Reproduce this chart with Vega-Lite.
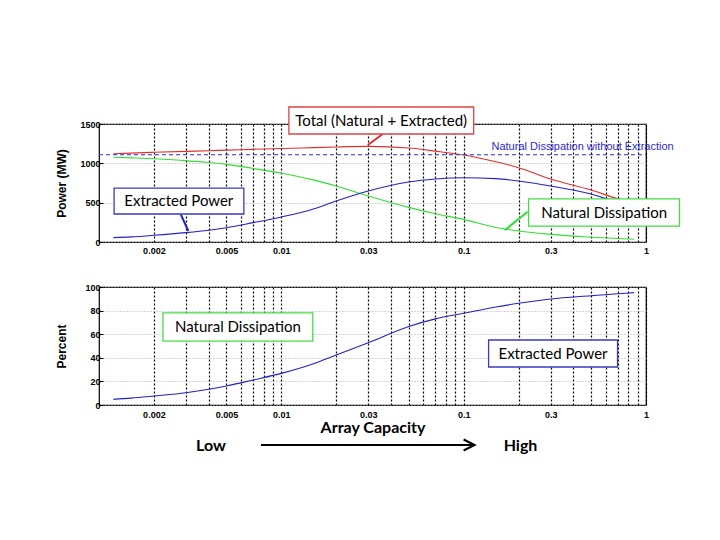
{
  "$schema": "https://vega.github.io/schema/vega-lite/v6.json",
  "autosize": {"type": "pad"},
  "padding": {"left": 54, "top": 105, "right": 0, "bottom": 0},
  "background": "white",
  "datasets": {
    "power": [
      {"cap": 0.0012, "series": "Total", "val": 1122},
      {"cap": 0.0015, "series": "Total", "val": 1130},
      {"cap": 0.002, "series": "Total", "val": 1140},
      {"cap": 0.003, "series": "Total", "val": 1152},
      {"cap": 0.004, "series": "Total", "val": 1160},
      {"cap": 0.005, "series": "Total", "val": 1168},
      {"cap": 0.007, "series": "Total", "val": 1178},
      {"cap": 0.01, "series": "Total", "val": 1188},
      {"cap": 0.015, "series": "Total", "val": 1200},
      {"cap": 0.02, "series": "Total", "val": 1208},
      {"cap": 0.03, "series": "Total", "val": 1215},
      {"cap": 0.05, "series": "Total", "val": 1195},
      {"cap": 0.07, "series": "Total", "val": 1155},
      {"cap": 0.1, "series": "Total", "val": 1105},
      {"cap": 0.15, "series": "Total", "val": 1020},
      {"cap": 0.2, "series": "Total", "val": 945},
      {"cap": 0.3, "series": "Total", "val": 800},
      {"cap": 0.5, "series": "Total", "val": 660},
      {"cap": 0.7, "series": "Total", "val": 550},
      {"cap": 0.86, "series": "Total", "val": 500},
      {"cap": 0.0012, "series": "Natural", "val": 1078},
      {"cap": 0.0015, "series": "Natural", "val": 1070},
      {"cap": 0.002, "series": "Natural", "val": 1058},
      {"cap": 0.003, "series": "Natural", "val": 1035},
      {"cap": 0.004, "series": "Natural", "val": 1010},
      {"cap": 0.005, "series": "Natural", "val": 987},
      {"cap": 0.007, "series": "Natural", "val": 935},
      {"cap": 0.01, "series": "Natural", "val": 875},
      {"cap": 0.015, "series": "Natural", "val": 790},
      {"cap": 0.02, "series": "Natural", "val": 712},
      {"cap": 0.03, "series": "Natural", "val": 585},
      {"cap": 0.05, "series": "Natural", "val": 440},
      {"cap": 0.07, "series": "Natural", "val": 360},
      {"cap": 0.1, "series": "Natural", "val": 288},
      {"cap": 0.15, "series": "Natural", "val": 185},
      {"cap": 0.2, "series": "Natural", "val": 140},
      {"cap": 0.3, "series": "Natural", "val": 97},
      {"cap": 0.5, "series": "Natural", "val": 60},
      {"cap": 0.7, "series": "Natural", "val": 45},
      {"cap": 0.86, "series": "Natural", "val": 35},
      {"cap": 0.0012, "series": "Extracted", "val": 55},
      {"cap": 0.0015, "series": "Extracted", "val": 65},
      {"cap": 0.002, "series": "Extracted", "val": 85},
      {"cap": 0.003, "series": "Extracted", "val": 119},
      {"cap": 0.004, "series": "Extracted", "val": 150},
      {"cap": 0.005, "series": "Extracted", "val": 182},
      {"cap": 0.007, "series": "Extracted", "val": 246},
      {"cap": 0.01, "series": "Extracted", "val": 318},
      {"cap": 0.015, "series": "Extracted", "val": 420},
      {"cap": 0.02, "series": "Extracted", "val": 521},
      {"cap": 0.03, "series": "Extracted", "val": 648},
      {"cap": 0.05, "series": "Extracted", "val": 762},
      {"cap": 0.07, "series": "Extracted", "val": 800},
      {"cap": 0.1, "series": "Extracted", "val": 817},
      {"cap": 0.15, "series": "Extracted", "val": 805},
      {"cap": 0.2, "series": "Extracted", "val": 775},
      {"cap": 0.3, "series": "Extracted", "val": 712},
      {"cap": 0.5, "series": "Extracted", "val": 610},
      {"cap": 0.7, "series": "Extracted", "val": 505},
      {"cap": 0.86, "series": "Extracted", "val": 465}
    ],
    "percent": [
      {"cap": 0.0012, "series": "Extracted", "val": 4.8},
      {"cap": 0.0015, "series": "Extracted", "val": 5.8},
      {"cap": 0.002, "series": "Extracted", "val": 7.6},
      {"cap": 0.003, "series": "Extracted", "val": 10.4},
      {"cap": 0.004, "series": "Extracted", "val": 13.3},
      {"cap": 0.005, "series": "Extracted", "val": 16.1},
      {"cap": 0.007, "series": "Extracted", "val": 21.2},
      {"cap": 0.01, "series": "Extracted", "val": 26.8},
      {"cap": 0.015, "series": "Extracted", "val": 35},
      {"cap": 0.02, "series": "Extracted", "val": 42.4},
      {"cap": 0.03, "series": "Extracted", "val": 52.8},
      {"cap": 0.05, "series": "Extracted", "val": 66.5},
      {"cap": 0.07, "series": "Extracted", "val": 73},
      {"cap": 0.1, "series": "Extracted", "val": 77.7},
      {"cap": 0.15, "series": "Extracted", "val": 83},
      {"cap": 0.2, "series": "Extracted", "val": 86.2},
      {"cap": 0.3, "series": "Extracted", "val": 89.8},
      {"cap": 0.5, "series": "Extracted", "val": 92.6},
      {"cap": 0.7, "series": "Extracted", "val": 94.3},
      {"cap": 0.86, "series": "Extracted", "val": 95.2}
    ],
    "baseline": [
      {"cap": 0.001, "cap2": 1, "val": 1110, "label": "Natural Dissipation without Extraction", "labelCap": 0.449, "labelVal": 1207}
    ],
    "boxesTop": [
      {"series": "Total", "cap": 0.011, "cap2": 0.1135, "val": 1373, "val2": 1716, "label": "Total (Natural + Extracted)", "labelCap": 0.0353, "labelVal": 1544},
      {"series": "Extracted", "cap": 0.00121, "cap2": 0.00623, "val": 356, "val2": 686, "label": "Extracted Power", "labelCap": 0.00274, "labelVal": 521},
      {"series": "Natural", "cap": 0.227, "cap2": 1.527, "val": 203, "val2": 547, "label": "Natural Dissipation", "labelCap": 0.589, "labelVal": 375}
    ],
    "leadersTop": [
      {"series": "Total", "cap": 0.0298, "cap2": 0.036, "val": 1233, "val2": 1373},
      {"series": "Extracted", "cap": 0.00281, "cap2": 0.00309, "val": 352, "val2": 140},
      {"series": "Natural", "cap": 0.168, "cap2": 0.224, "val": 149, "val2": 385}
    ],
    "boxesBottom": [
      {"series": "Natural", "cap": 0.002243, "cap2": 0.01488, "val": 54.2, "val2": 78, "label": "Natural Dissipation", "labelCap": 0.00578, "labelVal": 66.1},
      {"series": "Extracted", "cap": 0.137, "cap2": 0.698, "val": 32.2, "val2": 55.1, "label": "Extracted Power", "labelCap": 0.309, "labelVal": 43.6}
    ],
    "range": [
      {"label": "Low", "cap": 0.00411, "val": -35},
      {"label": "High", "cap": 0.205, "val": -35}
    ],
    "arrow": [
      {"cap": 0.00773, "cap2": 0.1148, "val": -33.9}
    ]
  },
  "vconcat": [
    {
      "width": 547,
      "height": 118,
      "encoding": {
        "x": {
          "field": "cap",
          "type": "quantitative",
          "scale": {"type": "log", "domain": [0.001, 1], "nice": false},
          "axis": {
            "title": null,
            "values": [0.002, 0.003, 0.004, 0.005, 0.006, 0.007, 0.008, 0.009, 0.01, 0.02, 0.03, 0.04, 0.05, 0.06, 0.07, 0.08, 0.09, 0.1, 0.2, 0.3, 0.4, 0.5, 0.6, 0.7, 0.8, 0.9, 1],
            "format": "~g",
            "labelExpr": "indexof([0.002, 0.005, 0.01, 0.03, 0.1, 0.3, 1], datum.value) >= 0 ? datum.label : ''",
            "labelOverlap": false,
            "labelFlush": false,
            "ticks": false,
            "labelPadding": 4,
            "grid": true,
            "gridColor": "#000",
            "gridDash": [2, 2],
            "gridWidth": 1.2,
            "gridOpacity": 1
          }
        },
        "y": {
          "field": "val",
          "type": "quantitative",
          "scale": {"domain": [0, 1500], "nice": false},
          "axis": {
            "title": "Power (MW)",
            "titleX": -31,
            "values": [0, 500, 1000, 1500],
            "format": "d",
            "ticks": true,
            "tickSize": -4,
            "tickColor": "#000",
            "labelPadding": 3,
            "grid": true,
            "gridColor": "#aaa",
            "gridDash": [1, 2]
          }
        }
      },
      "layer": [
        {
          "data": {"name": "power"},
          "mark": {"type": "line", "strokeWidth": 1.1, "interpolate": "monotone"},
          "encoding": {
            "color": {
              "field": "series",
              "type": "nominal",
              "legend": null,
              "scale": {"domain": ["Total", "Natural", "Extracted"], "range": ["#dd2f2f", "#33dd33", "#2222c4"]}
            },
            "order": {"field": "cap", "type": "quantitative"}
          }
        },
        {
          "data": {"name": "baseline"},
          "mark": {"type": "rule", "color": "#2c2cd0", "strokeDash": [4, 3], "strokeWidth": 1.1},
          "encoding": {"x2": {"field": "cap2"}}
        },
        {
          "data": {"name": "baseline"},
          "mark": {"type": "text", "color": "#2c2cd0", "font": "Liberation Sans", "fontSize": 11},
          "encoding": {
            "x": {"field": "labelCap", "type": "quantitative"},
            "y": {"field": "labelVal", "type": "quantitative"},
            "text": {"field": "label"}
          }
        },
        {
          "data": {"name": "leadersTop"},
          "mark": {"type": "rule", "strokeWidth": 2},
          "encoding": {
            "x2": {"field": "cap2"},
            "y2": {"field": "val2"},
            "color": {"field": "series", "type": "nominal", "legend": null}
          }
        },
        {
          "data": {"name": "boxesTop"},
          "mark": {"type": "rect", "fill": "white", "strokeWidth": 1.3},
          "encoding": {
            "x2": {"field": "cap2"},
            "y2": {"field": "val2"},
            "stroke": {"field": "series", "type": "nominal", "legend": null, "scale": {"domain": ["Total", "Natural", "Extracted"], "range": ["#d64545", "#44dd44", "#3a3ac0"]}}
          }
        },
        {
          "data": {"name": "boxesTop"},
          "mark": {"type": "text", "color": "#000", "font": "Lato", "fontSize": 15},
          "encoding": {
            "x": {"field": "labelCap", "type": "quantitative"},
            "y": {"field": "labelVal", "type": "quantitative"},
            "text": {"field": "label"}
          }
        }
      ]
    },
    {
      "width": 547,
      "height": 118,
      "encoding": {
        "x": {
          "field": "cap",
          "type": "quantitative",
          "scale": {"type": "log", "domain": [0.001, 1], "nice": false},
          "axis": {
            "title": "Array Capacity",
            "titleFont": "Lato",
            "titleFontSize": 16,
            "titlePadding": 0,
            "values": [0.002, 0.003, 0.004, 0.005, 0.006, 0.007, 0.008, 0.009, 0.01, 0.02, 0.03, 0.04, 0.05, 0.06, 0.07, 0.08, 0.09, 0.1, 0.2, 0.3, 0.4, 0.5, 0.6, 0.7, 0.8, 0.9, 1],
            "format": "~g",
            "labelExpr": "indexof([0.002, 0.005, 0.01, 0.03, 0.1, 0.3, 1], datum.value) >= 0 ? datum.label : ''",
            "labelOverlap": false,
            "labelFlush": false,
            "ticks": false,
            "labelPadding": 5,
            "grid": true,
            "gridColor": "#000",
            "gridDash": [2, 2],
            "gridWidth": 1.2,
            "gridOpacity": 1
          }
        },
        "y": {
          "field": "val",
          "type": "quantitative",
          "scale": {"domain": [0, 100], "nice": false},
          "axis": {
            "title": "Percent",
            "titleX": -31,
            "values": [0, 20, 40, 60, 80, 100],
            "format": "d",
            "ticks": true,
            "tickSize": -4,
            "tickColor": "#000",
            "labelPadding": 3,
            "grid": true,
            "gridColor": "#aaa",
            "gridDash": [1, 2]
          }
        }
      },
      "layer": [
        {
          "data": {"name": "percent"},
          "mark": {"type": "line", "strokeWidth": 1.1, "interpolate": "monotone"},
          "encoding": {
            "color": {"field": "series", "type": "nominal", "legend": null},
            "order": {"field": "cap", "type": "quantitative"}
          }
        },
        {
          "data": {"name": "boxesBottom"},
          "mark": {"type": "rect", "fill": "white", "strokeWidth": 1.3},
          "encoding": {
            "x2": {"field": "cap2"},
            "y2": {"field": "val2"},
            "stroke": {"field": "series", "type": "nominal", "legend": null}
          }
        },
        {
          "data": {"name": "boxesBottom"},
          "mark": {"type": "text", "color": "#000", "font": "Lato", "fontSize": 15},
          "encoding": {
            "x": {"field": "labelCap", "type": "quantitative"},
            "y": {"field": "labelVal", "type": "quantitative"},
            "text": {"field": "label"}
          }
        },
        {
          "data": {"name": "range"},
          "mark": {"type": "text", "color": "#000", "font": "Lato", "fontWeight": "bold", "fontSize": 16},
          "encoding": {"text": {"field": "label"}}
        },
        {
          "data": {"name": "arrow"},
          "mark": {"type": "rule", "color": "#000", "strokeWidth": 2},
          "encoding": {"x2": {"field": "cap2"}}
        },
        {
          "data": {"name": "arrow"},
          "mark": {"type": "point", "shape": "M-2,-1L0,0L-2,1", "size": 121, "filled": false, "stroke": "#000", "strokeWidth": 2, "opacity": 1},
          "encoding": {"x": {"field": "cap2", "type": "quantitative"}}
        }
      ]
    }
  ],
  "spacing": 26,
  "config": {
    "view": {"stroke": "#000", "strokeWidth": 1.2},
    "axis": {
      "domain": false,
      "labelFont": "Liberation Sans",
      "labelFontWeight": "bold",
      "labelFontSize": 9,
      "labelColor": "#000",
      "titleFont": "Liberation Sans",
      "titleFontWeight": "bold",
      "titleFontSize": 12,
      "titleColor": "#000"
    }
  }
}
